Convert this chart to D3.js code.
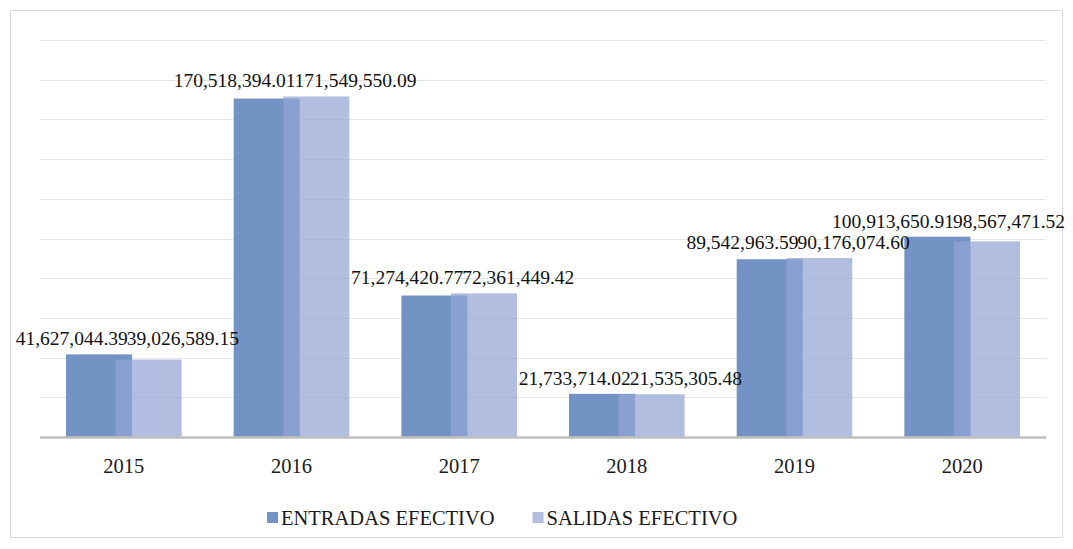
<!DOCTYPE html>
<html>
<head>
<meta charset="utf-8">
<script src="https://cdn.jsdelivr.net/npm/d3@7"></script>
<style>
  html, body { margin: 0; padding: 0; background: #fff; }
  svg { display: block; }
</style>
</head>
<body>
<svg id="chart" width="1073" height="549"></svg>
<script>
const years = ["2015", "2016", "2017", "2018", "2019", "2020"];
const entradas = [41627044.39, 170518394.01, 71274420.77, 21733714.02, 89542963.59, 100913650.91];
const salidas = [39026589.15, 171549550.09, 72361449.42, 21535305.48, 90176074.60, 98567471.52];
const seriesNames = ["ENTRADAS EFECTIVO", "SALIDAS EFECTIVO"];
const yTicks = [0, 20e6, 40e6, 60e6, 80e6, 100e6, 120e6, 140e6, 160e6, 180e6, 200e6];

const W = 1073, H = 549
const plot = { left: 40, right: 1046, top: 40, bottom: 437 }
const labelSize = 19.5
const textSize = 20.5
const serif = "'Liberation Serif', 'Times New Roman', Times, serif"
const colEntradas = "#7293c4"
const colSalidas = "#93a5d4"

const svg = d3.select("#chart")
    .style("font-family", serif)

// outer frame
svg.append("rect")
    .attr("x", 10.5).attr("y", 10.5)
    .attr("width", 1052).attr("height", 527)
    .attr("fill", "#fff")
    .attr("stroke", "#d9d9d9")

const x = d3.scaleBand().domain(years).range([plot.left, plot.right])
const y = d3.scaleLinear().domain([0, 200e6]).range([plot.bottom, plot.top])

const barW = x.bandwidth() * 0.394
const shift = barW * 0.75   // bars overlap by 25%

// gridlines
svg.append("g")
    .selectAll("line")
    .data(yTicks.slice(1))
    .join("line")
    .attr("x1", plot.left).attr("x2", plot.right)
    .attr("y1", d => Math.round(y(d)) + 0.5)
    .attr("y2", d => Math.round(y(d)) + 0.5)
    .attr("stroke", "#e6e6e6")
    .attr("stroke-width", 1)

const groupCenter = i => x(years[i]) + x.bandwidth() / 2
const groupLeft = i => groupCenter(i) - (barW + shift) / 2

// entradas bars
svg.append("g")
    .selectAll("rect")
    .data(entradas)
    .join("rect")
    .attr("x", (d, i) => groupLeft(i))
    .attr("y", d => y(d))
    .attr("width", barW)
    .attr("height", d => y(0) - y(d))
    .attr("fill", colEntradas)

// salidas bars, drawn over with some transparency
svg.append("g")
    .selectAll("rect")
    .data(salidas)
    .join("rect")
    .attr("x", (d, i) => groupLeft(i) + shift)
    .attr("y", d => y(d))
    .attr("width", barW)
    .attr("height", d => y(0) - y(d))
    .attr("fill", colSalidas)
    .attr("fill-opacity", 0.72)

// baseline
svg.append("line")
    .attr("x1", plot.left).attr("x2", plot.right)
    .attr("y1", y(0) + 0.5).attr("y2", y(0) + 0.5)
    .attr("stroke", "#bfbfbf")
    .attr("stroke-width", 2.5)

// x axis labels
const xAxis = d3.axisBottom(x).tickSize(0).tickPadding(0)
const gx = svg.append("g")
    .attr("transform", `translate(0,${y(0)})`)
    .call(xAxis)
gx.select(".domain").remove()
gx.selectAll("text")
    .attr("dy", null)
    .attr("y", 36)
    .style("font-family", serif)
    .style("font-size", textSize + "px")
    .attr("fill", "#1a1a1a")

// data labels: entradas ends and salidas starts near the group centre,
// pushed back inside the frame if they run past its right edge
const fmt = d3.format(",.2f")
const labelY = i => y(Math.max(entradas[i], salidas[i])) - 9

const gLabels = svg.append("g")
years.forEach(function(yr, i) {
    var tE = gLabels.append("text")
        .attr("text-anchor", "end")
        .attr("y", labelY(i))
        .style("font-family", serif)
        .style("font-size", labelSize + "px")
        .attr("fill", "#111")
        .text(fmt(entradas[i]))
    var tS = gLabels.append("text")
        .attr("text-anchor", "start")
        .attr("y", labelY(i))
        .style("font-family", serif)
        .style("font-size", labelSize + "px")
        .attr("fill", "#111")
        .text(fmt(salidas[i]))
    var junction = groupCenter(i) + 4
    var rightEnd = junction - 1 + tS.node().getComputedTextLength()
    if (rightEnd > W - 8)
        junction -= rightEnd - (W - 8)
    tE.attr("x", junction)
    tS.attr("x", junction - 1)
})

// legend
const legend = svg.append("g")
var lx = 267
seriesNames.forEach(function(name, i) {
    legend.append("rect")
        .attr("x", lx).attr("y", 512)
        .attr("width", 11).attr("height", 11)
        .attr("fill", i == 0 ? colEntradas : "#b1bee0")
    var t = legend.append("text")
        .attr("x", lx + 14).attr("y", 525)
        .style("font-family", serif)
        .style("font-size", textSize + "px")
        .attr("fill", "#1a1a1a")
        .text(name)
    lx = lx + 14 + t.node().getComputedTextLength() + 38
})
</script>
</body>
</html>
